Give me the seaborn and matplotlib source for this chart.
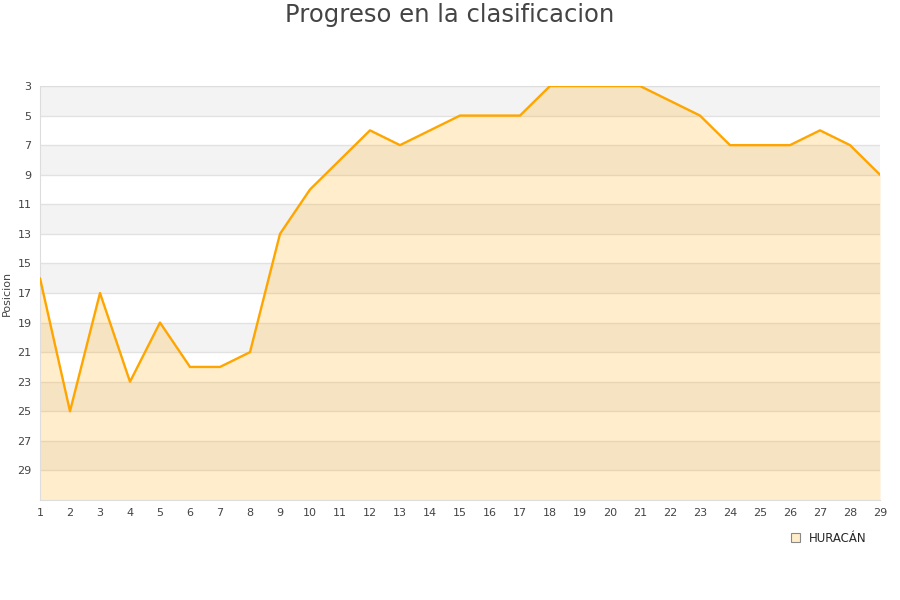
import pandas as pd
import matplotlib
matplotlib.use('Agg')
import matplotlib.pyplot as plt
import seaborn as sns
from matplotlib.patches import Patch

# DATA
jornadas = list(range(1, 30))
posiciones = [16, 25, 17, 23, 19, 22, 22, 21, 13, 10, 8, 6, 7, 6, 5, 5, 5, 3, 3, 3, 3,
              4, 5, 7, 7, 7, 6, 7, 9]
equipo = 'HURACÁN'
y_ticks = list(range(3, 30, 2))

df = pd.DataFrame({'jornada': jornadas, 'posicion': posiciones})

sns.set_style('white')
plt.rcParams['font.family'] = ['DejaVu Sans']

fig = plt.figure(figsize=(9, 6), dpi=100)
ax = fig.add_axes([40 / 900, 100 / 600, 840 / 900, 414 / 600])

# alternating bands
for lo in range(3, 31, 4):
    ax.axhspan(lo, lo + 2, color='#f3f3f3', zorder=0, lw=0)
for t in y_ticks[1:]:
    ax.axhline(t, color='#e2e2e2', lw=1, zorder=1)

ax.fill_between(df['jornada'], df['posicion'], 31, color='#ffa500', alpha=0.2, lw=0, zorder=2)
sns.lineplot(data=df, x='jornada', y='posicion', color='#ffa500', lw=1.7, ax=ax, zorder=3)

ax.set_xlim(1, 29)
ax.set_ylim(31, 3)
ax.set_xticks(jornadas)
ax.set_yticks(y_ticks)
ax.tick_params(axis='both', labelsize=8, colors='#444444', length=0, pad=6)
ax.set_xlabel('')
ax.set_ylabel('Posicion', fontsize=8, color='#444444', labelpad=4)

for s in ['top', 'right']:
    ax.spines[s].set_visible(False)
ax.spines['left'].set_color('#dddddd')
ax.spines['bottom'].set_color('#dddddd')
ax.axhline(3, color='#dddddd', lw=1, zorder=1)

fig.text(0.5, 1 - 15 / 600, 'Progreso en la clasificacion', fontsize=17.5, color='#444444',
         ha='center', va='center')

handles = [Patch(facecolor='#ffecc8', edgecolor='#888888', lw=0.8, label=equipo)]
fig.legend(handles=handles, loc='center', bbox_to_anchor=(829 / 900, 1 - 538 / 600),
           frameon=False, fontsize=8.5, handlelength=0.7, handleheight=0.7, handletextpad=0.8)

plt.savefig('out.png', dpi=100)
plt.close()
